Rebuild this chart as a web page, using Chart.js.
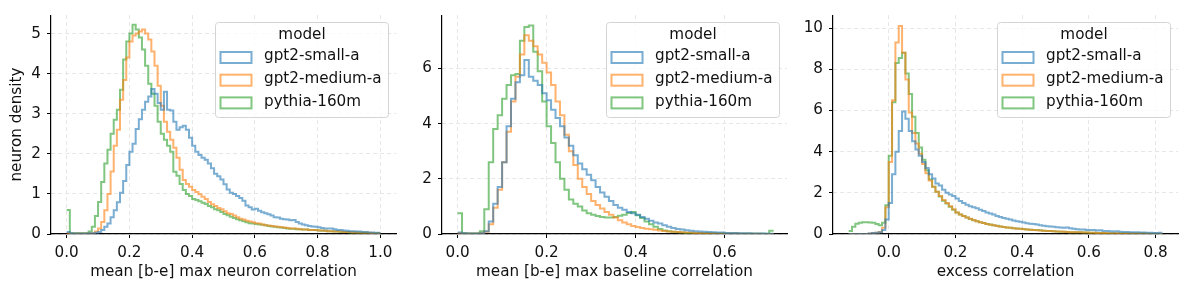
<!DOCTYPE html>
<html>
<head>
<meta charset="utf-8">
<script src="https://cdn.jsdelivr.net/npm/chart.js@4.4.1/dist/chart.umd.min.js"></script>
<style>
  html, body { margin: 0; padding: 0; background: #fff; }
  #wrap { position: relative; width: 1188px; height: 289px; }
  .panel { position: absolute; top: 0; height: 289px; }
</style>
</head>
<body>
<div id="wrap">
  <div class="panel" style="left:0;width:400px"><canvas id="neuronChart" width="400" height="289"></canvas></div>
  <div class="panel" style="left:400px;width:400px"><canvas id="baselineChart" width="400" height="289"></canvas></div>
  <div class="panel" style="left:800px;width:388px"><canvas id="excessChart" width="388" height="289"></canvas></div>
</div>
<script>
// ===== Data =====
const MODELS = ['gpt2-small-a', 'gpt2-medium-a', 'pythia-160m'];
const LEGEND_TITLE = 'model';

// panel 1: mean [b-e] max neuron correlation, bins of 0.01 from 0.0
const NEURON_BIN_START = 0, NEURON_BIN_WIDTH = 0.01;
const NEURON_SMALL = [
  0.05,0.02,0.01,0.01,0.01,0.01,0.01,0.02,0.02,0.03,
  0.05,0.10,0.18,0.26,0.42,0.59,0.79,1.03,1.32,1.72,
  2.05,2.25,2.62,2.86,3.10,3.30,3.43,3.62,3.50,3.27,
  3.10,3.55,3.10,3.08,2.80,2.60,2.66,2.70,2.60,2.40,
  2.20,2.05,1.97,1.90,1.85,1.76,1.64,1.50,1.44,1.36,
  1.24,1.11,1.03,1.00,0.95,0.90,0.83,0.71,0.67,0.61,
  0.63,0.58,0.54,0.52,0.49,0.46,0.42,0.41,0.38,0.37,
  0.36,0.34,0.35,0.30,0.26,0.24,0.22,0.20,0.19,0.18,
  0.17,0.15,0.14,0.14,0.14,0.12,0.10,0.10,0.09,0.08,
  0.07,0.07,0.06,0.06,0.05,0.05,0.04,0.04,0.03,0.03];
const NEURON_MEDIUM = [
  0.02,0.01,0.01,0.01,0.01,0.01,0.01,0.01,0.02,0.06,
  0.14,0.30,0.59,1.00,1.56,2.20,2.60,3.35,3.84,4.40,
  4.80,4.95,5.00,5.05,5.10,5.00,4.85,4.55,4.20,3.70,
  3.20,2.80,2.55,2.35,2.15,1.90,1.60,1.35,1.25,1.18,
  1.10,1.05,0.99,0.93,0.87,0.80,0.74,0.70,0.65,0.62,
  0.57,0.52,0.50,0.46,0.42,0.38,0.36,0.33,0.31,0.29,
  0.27,0.26,0.24,0.22,0.21,0.20,0.19,0.18,0.17,0.16,
  0.15,0.14,0.14,0.13,0.12,0.11,0.11,0.10,0.10,0.10,
  0.09,0.09,0.08,0.07,0.07,0.06,0.06,0.06,0.05,0.05,
  0.05,0.04,0.04,0.04,0.03,0.03,0.03,0.02,0.02,0.02];
const NEURON_PYTHIA = [
  0.60,0.02,0.02,0.02,0.02,0.02,0.02,0.06,0.18,0.45,
  0.80,1.30,1.76,2.10,2.50,2.85,3.10,3.60,4.35,4.80,
  5.00,5.22,5.10,4.90,4.60,4.20,3.75,3.50,3.20,2.80,
  2.50,2.35,2.20,2.05,1.55,1.45,1.25,1.10,1.00,0.95,
  0.87,0.85,0.82,0.78,0.75,0.70,0.67,0.62,0.59,0.55,
  0.50,0.47,0.43,0.40,0.37,0.34,0.32,0.29,0.27,0.26,
  0.25,0.24,0.23,0.22,0.20,0.19,0.18,0.17,0.16,0.15,
  0.14,0.13,0.13,0.12,0.12,0.11,0.11,0.10,0.10,0.10,
  0.09,0.08,0.08,0.07,0.07,0.06,0.06,0.05,0.05,0.05,
  0.04,0.04,0.04,0.03,0.03,0.03,0.02,0.02,0.02,0.02];
const NEURON_X_RANGE = [-0.05, 1.05];
const NEURON_Y_MAX = 5.46;
const NEURON_X_TICKS = [0, 0.2, 0.4, 0.6, 0.8, 1.0];
const NEURON_X_LABELS = ['0.0', '0.2', '0.4', '0.6', '0.8', '1.0'];
const NEURON_Y_TICKS = [0, 1, 2, 3, 4, 5];
const NEURON_Y_LABELS = ['0', '1', '2', '3', '4', '5'];

// panel 2: mean [b-e] max baseline correlation, bins of 0.01 from 0.0
const BASELINE_BIN_START = 0, BASELINE_BIN_WIDTH = 0.01;
const BASELINE_SMALL = [
  0.05,0.03,0.02,0.02,0.02,0.03,0.10,0.45,1.10,1.70,
  2.60,3.90,4.90,5.50,5.75,6.30,5.70,5.55,5.40,5.10,
  4.85,4.50,4.20,3.90,3.50,3.20,2.85,2.55,2.35,2.15,
  1.95,1.70,1.50,1.35,1.20,1.05,0.95,0.88,0.80,0.75,
  0.70,0.62,0.55,0.48,0.42,0.38,0.32,0.26,0.22,0.18,
  0.16,0.14,0.12,0.10,0.09,0.08,0.07,0.06,0.05,0.05,
  0.04,0.04,0.04,0.03,0.03,0.03,0.02,0.02,0.02,0.01,
  0.01];
const BASELINE_MEDIUM = [
  0.03,0.02,0.02,0.02,0.02,0.03,0.08,0.35,0.95,1.60,
  2.60,3.70,4.80,5.70,6.50,7.20,7.00,6.80,6.50,6.20,
  5.85,5.40,4.80,4.30,3.60,3.00,2.50,2.00,1.70,1.45,
  1.20,1.05,0.92,0.80,0.70,0.60,0.50,0.42,0.35,0.29,
  0.25,0.22,0.19,0.17,0.15,0.13,0.11,0.09,0.08,0.07,
  0.06,0.05,0.05,0.04,0.04,0.03,0.03,0.03,0.02,0.02,
  0.02,0.02,0.02,0.01,0.01,0.01,0.01,0.01,0.00,0.00,
  0.00];
const BASELINE_PYTHIA = [
  0.75,0.03,0.02,0.02,0.02,0.10,0.90,2.60,3.80,4.30,
  4.90,5.40,5.75,5.80,7.00,7.50,7.55,6.60,5.90,4.80,
  3.90,3.30,2.60,2.00,1.60,1.25,1.10,1.00,0.85,0.75,
  0.70,0.65,0.62,0.60,0.60,0.62,0.66,0.70,0.76,0.80,
  0.68,0.58,0.45,0.35,0.26,0.18,0.13,0.10,0.08,0.06,
  0.05,0.04,0.04,0.03,0.03,0.03,0.02,0.02,0.02,0.02,
  0.01,0.01,0.01,0.01,0.01,0.01,0.01,0.01,0.01,0.01,
  0.12];
const BASELINE_X_RANGE = [-0.035, 0.74];
const BASELINE_Y_MAX = 7.93;
const BASELINE_X_TICKS = [0, 0.2, 0.4, 0.6];
const BASELINE_X_LABELS = ['0.0', '0.2', '0.4', '0.6'];
const BASELINE_Y_TICKS = [0, 2, 4, 6];
const BASELINE_Y_LABELS = ['0', '2', '4', '6'];

// panel 3: excess correlation, bins of 0.01 from -0.12
const EXCESS_BIN_START = -0.12, EXCESS_BIN_WIDTH = 0.01;
const EXCESS_SMALL = [
  0.00,0.00,0.00,0.00,0.00,0.00,0.03,0.05,0.06,0.08,
  0.20,0.70,1.50,2.90,4.00,5.00,5.95,5.60,5.00,4.50,
  4.10,3.80,3.50,3.20,2.90,2.70,2.45,2.35,2.15,2.00,
  1.92,1.85,1.72,1.60,1.50,1.42,1.35,1.30,1.25,1.18,
  1.12,1.05,1.00,0.95,0.88,0.82,0.78,0.74,0.70,0.66,
  0.62,0.60,0.56,0.52,0.50,0.49,0.46,0.43,0.40,0.38,
  0.37,0.35,0.33,0.32,0.30,0.31,0.28,0.25,0.23,0.22,
  0.22,0.20,0.20,0.19,0.17,0.18,0.15,0.14,0.13,0.12,
  0.13,0.11,0.10,0.10,0.09,0.09,0.08,0.07,0.07,0.06,
  0.06,0.05,0.05,0.06];
const EXCESS_MEDIUM = [
  0.00,0.00,0.00,0.00,0.00,0.00,0.03,0.05,0.06,0.10,
  0.30,1.30,3.50,6.50,9.30,10.10,8.80,7.50,5.90,4.90,
  4.40,3.90,3.40,2.95,2.60,2.30,2.05,1.85,1.65,1.50,
  1.35,1.20,1.05,0.95,0.88,0.80,0.74,0.68,0.62,0.57,
  0.53,0.49,0.45,0.42,0.39,0.36,0.34,0.32,0.30,0.28,
  0.26,0.25,0.23,0.22,0.21,0.20,0.18,0.17,0.16,0.15,
  0.14,0.13,0.12,0.12,0.11,0.10,0.09,0.09,0.08,0.08,
  0.07,0.07,0.06,0.06,0.05,0.05,0.05,0.04,0.04,0.04,
  0.04,0.03,0.03,0.03,0.03,0.02,0.02,0.02,0.02,0.02,
  0.01,0.01,0.01,0.01];
const EXCESS_PYTHIA = [
  0.15,0.35,0.50,0.55,0.57,0.57,0.56,0.55,0.48,0.43,
  0.55,1.40,3.80,6.40,8.30,8.55,8.80,7.80,6.80,5.70,
  4.90,4.20,3.60,3.10,2.65,2.30,2.05,1.82,1.62,1.48,
  1.32,1.18,1.05,0.95,0.87,0.80,0.73,0.67,0.62,0.57,
  0.53,0.49,0.46,0.43,0.40,0.37,0.34,0.32,0.30,0.28,
  0.27,0.25,0.24,0.22,0.21,0.20,0.19,0.18,0.16,0.15,
  0.14,0.13,0.12,0.11,0.11,0.10,0.09,0.09,0.08,0.08,
  0.07,0.07,0.06,0.06,0.05,0.05,0.05,0.04,0.04,0.04,
  0.03,0.03,0.03,0.03,0.02,0.02,0.02,0.02,0.02,0.01,
  0.01,0.01,0.01,0.00];
const EXCESS_X_RANGE = [-0.167, 0.867];
const EXCESS_Y_MAX = 10.63;
const EXCESS_X_TICKS = [0, 0.2, 0.4, 0.6, 0.8];
const EXCESS_X_LABELS = ['0.0', '0.2', '0.4', '0.6', '0.8'];
const EXCESS_Y_TICKS = [0, 2, 4, 6, 8, 10];
const EXCESS_Y_LABELS = ['0', '2', '4', '6', '8', '10'];

// ===== Style =====
const COLORS = ['rgba(31,119,180,0.6)', 'rgba(255,127,14,0.6)', 'rgba(44,160,44,0.6)'];
const FONT = { family: '"DejaVu Sans", sans-serif', size: 15.2, lineHeight: 1.2 };
const TEXT = '#111';
const GRID = '#e6e6e6';

// step outline like matplotlib steps-post: one point per bin edge, last value repeated
function stepPoints(start, width, values) {
  const pts = values.map((v, i) => ({ x: start + i * width, y: v }));
  pts.push({ x: start + values.length * width, y: values[values.length - 1] });
  return pts;
}

// ===== Legend box inside the plot =====
const legendBox = {
  id: 'legendBox',
  afterDraw(chart) {
    const { ctx, chartArea } = chart;
    const w = 173, h = 95;
    const x = Math.round(chartArea.right - 8 - w) + 0.5;
    const y = Math.round(chartArea.top + 7) + 0.5;
    ctx.save();
    ctx.beginPath();
    ctx.roundRect(x, y, w, h, 3);
    ctx.fillStyle = 'rgba(255,255,255,0.8)';
    ctx.fill();
    ctx.strokeStyle = '#d4d4d4';
    ctx.lineWidth = 1;
    ctx.stroke();
    ctx.font = FONT.size + 'px ' + FONT.family;
    ctx.fillStyle = TEXT;
    ctx.textBaseline = 'middle';
    ctx.textAlign = 'center';
    ctx.fillText(LEGEND_TITLE, x + w / 2, y + 12.5);
    ctx.textAlign = 'left';
    MODELS.forEach((m, i) => {
      const cy = y + 35 + i * 22.7;
      ctx.strokeStyle = COLORS[i];
      ctx.lineWidth = 2;
      ctx.strokeRect(x + 5, cy - 5.5, 31, 11);
      ctx.fillText(m, x + 48.5, cy - 1);
    });
    ctx.restore();
  }
};

function makeChart(id, cfg) {
  new Chart(document.getElementById(id), {
    type: 'line',
    data: {
      datasets: cfg.series.map((vals, i) => ({
        label: MODELS[i],
        data: stepPoints(cfg.binStart, cfg.binWidth, vals),
        borderColor: COLORS[i],
        borderWidth: 2,
        pointRadius: 0,
        stepped: true,
        fill: false
      }))
    },
    options: {
      responsive: false,
      animation: false,
      layout: { padding: { top: 10, right: cfg.padRight, bottom: 0, left: 0 } },
      plugins: { legend: { display: false }, tooltip: { enabled: false } },
      scales: {
        x: {
          type: 'linear',
          min: cfg.xRange[0],
          max: cfg.xRange[1],
          afterBuildTicks: s => { s.ticks = cfg.xTicks.map(v => ({ value: v })); },
          afterFit: s => { s.height = 55; },
          ticks: {
            autoSkip: false, maxRotation: 0, padding: 6,
            color: TEXT, font: FONT,
            callback: (v, i) => cfg.xLabels[i]
          },
          grid: { color: GRID, lineWidth: 1, tickColor: '#000', tickLength: 4, tickWidth: 1 },
          border: { color: '#000', width: 1.2, dash: [4, 3] },
          title: { display: true, text: cfg.xTitle, color: TEXT, font: FONT, padding: { top: 0, bottom: 8 } }
        },
        y: {
          min: 0,
          max: cfg.yMax,
          afterBuildTicks: s => { s.ticks = cfg.yTicks.map(v => ({ value: v })); },
          afterFit: s => { s.width = cfg.yAxisWidth; },
          ticks: {
            padding: 6, color: TEXT, font: FONT,
            callback: (v, i) => cfg.yLabels[i]
          },
          grid: { color: GRID, lineWidth: 1, tickColor: '#000', tickLength: 4, tickWidth: 1 },
          border: { color: '#000', width: 1.2, dash: [4, 3] },
          title: { display: !!cfg.yTitle, text: cfg.yTitle || '', color: TEXT, font: FONT, padding: { top: 8, bottom: 0 } }
        }
      }
    },
    plugins: [legendBox]
  });
}

makeChart('neuronChart', {
  series: [NEURON_SMALL, NEURON_MEDIUM, NEURON_PYTHIA],
  binStart: NEURON_BIN_START, binWidth: NEURON_BIN_WIDTH,
  xRange: NEURON_X_RANGE, yMax: NEURON_Y_MAX,
  xTicks: NEURON_X_TICKS, xLabels: NEURON_X_LABELS,
  yTicks: NEURON_Y_TICKS, yLabels: NEURON_Y_LABELS,
  xTitle: 'mean [b-e] max neuron correlation', yTitle: 'neuron density',
  yAxisWidth: 51, padRight: 4
});

makeChart('baselineChart', {
  series: [BASELINE_SMALL, BASELINE_MEDIUM, BASELINE_PYTHIA],
  binStart: BASELINE_BIN_START, binWidth: BASELINE_BIN_WIDTH,
  xRange: BASELINE_X_RANGE, yMax: BASELINE_Y_MAX,
  xTicks: BASELINE_X_TICKS, xLabels: BASELINE_X_LABELS,
  yTicks: BASELINE_Y_TICKS, yLabels: BASELINE_Y_LABELS,
  xTitle: 'mean [b-e] max baseline correlation',
  yAxisWidth: 42, padRight: 13
});

makeChart('excessChart', {
  series: [EXCESS_SMALL, EXCESS_MEDIUM, EXCESS_PYTHIA],
  binStart: EXCESS_BIN_START, binWidth: EXCESS_BIN_WIDTH,
  xRange: EXCESS_X_RANGE, yMax: EXCESS_Y_MAX,
  xTicks: EXCESS_X_TICKS, xLabels: EXCESS_X_LABELS,
  yTicks: EXCESS_Y_TICKS, yLabels: EXCESS_Y_LABELS,
  xTitle: 'excess correlation',
  yAxisWidth: 33, padRight: 10
});
</script>
</body>
</html>
